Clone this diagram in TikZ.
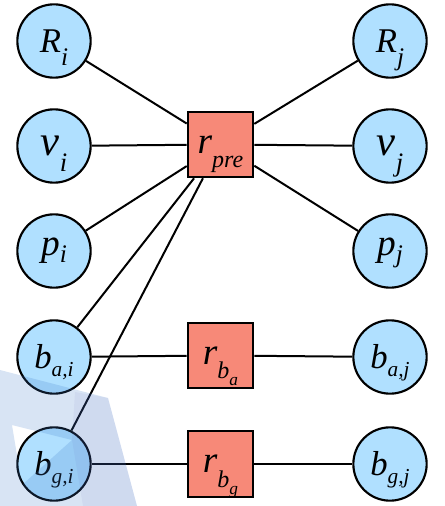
\documentclass[tikz,border=0pt]{standalone}
\usepackage{fontspec}
\setmainfont{Liberation Serif}
\usetikzlibrary{positioning}
\definecolor{nodeblue}{RGB}{176,224,255}
\definecolor{factorred}{RGB}{247,137,120}
\definecolor{markblue}{RGB}{60,120,200}
\definecolor{markviolet}{RGB}{90,80,180}
% lowered index that does not move the main letter
\newcommand{\lowsub}[3]{\raisebox{-#1}[0pt][0pt]{\fontsize{#2}{#2}\selectfont #3}}

\begin{document}
\begin{tikzpicture}[x=0.75pt,y=-0.75pt,
  varnode/.style={circle,draw,line width=1.6pt,fill=nodeblue,minimum size=55pt,inner sep=0pt,font=\fontsize{26}{30}\selectfont\itshape},
  factornode/.style={rectangle,draw,line width=1.7pt,fill=factorred,minimum size=49pt,inner sep=0pt,font=\fontsize{26}{30}\selectfont\itshape},
  link/.style={line width=1.5pt}]
\useasboundingbox (0,0) rectangle (444,506);
% state i
\node[varnode] (Ri) at (54,41) {R\lowsub{10pt}{19}{i}};
\node[varnode] (vi) at (54,146) {{\fontsize{32}{32}\selectfont v}\lowsub{12pt}{20}{i}};
\node[varnode] (pi) at (54,251) {{\fontsize{28}{28}\selectfont p}\lowsub{5pt}{19}{i}};
\node[varnode] (bai) at (54,357) {b\lowsub{6pt}{16}{a,i}};
\node[varnode] (bgi) at (54,464) {b\lowsub{6pt}{16}{g,i}};
% state j
\node[varnode] (Rj) at (390,41) {R\lowsub{10pt}{19}{j}};
\node[varnode] (vj) at (390,146) {{\fontsize{32}{32}\selectfont v}\lowsub{12pt}{20}{j}};
\node[varnode] (pj) at (390,251) {{\fontsize{28}{28}\selectfont p}\lowsub{5pt}{19}{j}};
\node[varnode] (baj) at (390,357) {b\lowsub{6pt}{16}{a,j}};
\node[varnode] (bgj) at (390,464) {b\lowsub{6pt}{16}{g,j}};
% residuals
\node[factornode] (rpre) at (220.5,144.5) {{\fontsize{28}{28}\selectfont r}\lowsub{11pt}{18}{pre}};
\node[factornode] (rba) at (220.5,355.5) {{\fontsize{28}{28}\selectfont r}\lowsub{11pt}{18}{b\lowsub{5pt}{13}{a}}};
\node[factornode] (rbg) at (220.5,464) {{\fontsize{28}{28}\selectfont r}\lowsub{11pt}{18}{b\lowsub{5pt}{13}{g}}};
\draw[link] (Ri)--(rpre) (vi)--(rpre) (pi)--(rpre) (bai)--(rpre) (bgi)--(rpre);
\draw[link] (rpre)--(Rj) (rpre)--(vj) (rpre)--(pj);
\draw[link] (bai)--(rba)--(baj);
\draw[link] (bgi)--(rbg)--(bgj);
% faint mark in the corner
\fill[markblue,fill opacity=0.2,even odd rule] (0,370)--(108,398)--(137,506)--(0,506)--cycle (12,425)--(72,440)--(22,485)--cycle;
\fill[markviolet,fill opacity=0.07] (75,392)--(108,398)--(137,506)--(83,506)--(72,440)--cycle;
\end{tikzpicture}
\end{document}
